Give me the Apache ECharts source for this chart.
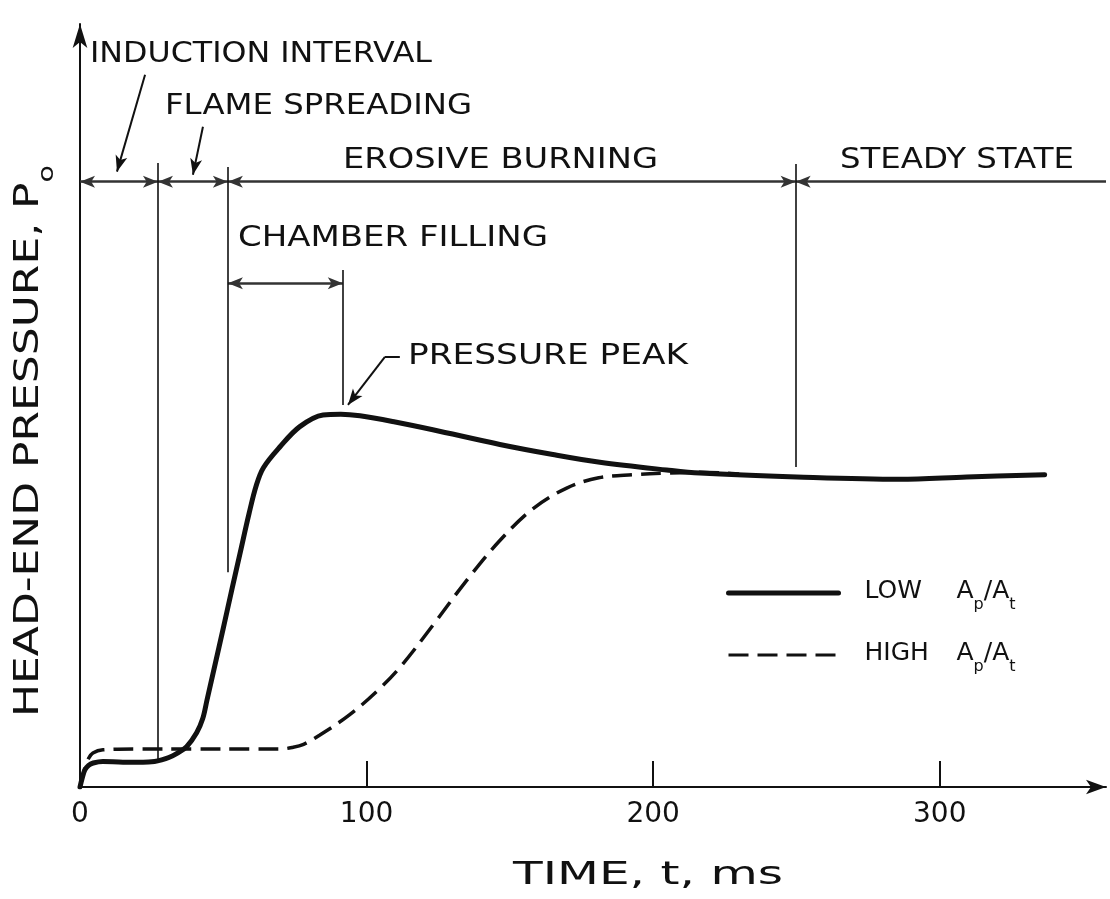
<!DOCTYPE html>
<html>
<head>
<meta charset="utf-8">
<script src="https://cdn.jsdelivr.net/npm/echarts@6/dist/echarts.min.js"></script>
<style>
html,body{margin:0;padding:0;background:#fff;}
#chart{width:1110px;height:899px;}
</style>
</head>
<body>
<div id="chart"></div>
<script>
// ---- data (time in ms, head-end pressure in arbitrary units) ----
const timeLow = [0, 0.8, 1.7, 3.0, 4.6, 8, 15, 22, 26, 28.5, 31, 33.7, 37.2, 40.7, 42.8, 44.3, 47, 50, 53, 56, 59, 61.5, 64, 69.8, 76.7, 84.8, 91, 97.7, 110, 123.1, 146.5, 165, 181.4, 204.7, 216.3, 250.1, 286, 309.4, 336.6];
const pressureLow = [0, 1.2, 2.2, 2.8, 3.1, 3.3, 3.2, 3.2, 3.3, 3.5, 3.8, 4.3, 5.2, 7.0, 8.8, 11.2, 15.6, 20.5, 25.5, 30.4, 35.3, 38.9, 41.2, 43.9, 46.5, 48.0, 48.1, 47.9, 47.1, 46.1, 44.2, 42.9, 41.9, 40.9, 40.5, 40.0, 39.7, 40.0, 40.3];
const timeHigh = [0, 1, 2, 3, 4.5, 8, 20, 40, 60, 69.8, 74, 78, 83.7, 94, 104, 112, 123, 135, 146.5, 158, 170, 181, 192.9, 204.7, 216.3, 230];
const pressureHigh = [0, 1.5, 2.8, 3.7, 4.4, 4.8, 4.9, 4.9, 4.9, 4.9, 5.1, 5.5, 6.7, 9.3, 12.5, 15.6, 20.8, 26.7, 31.8, 35.9, 38.6, 39.9, 40.3, 40.5, 40.6, 40.4];
const seriesNames = ['LOW Ap/At', 'HIGH Ap/At'];
const xTickValues = [100, 200, 300];
const xLabelValues = [0, 100, 200, 300];

// phases (ms) and annotation geometry in data units
const phaseBounds = [0, 27.2, 51.6, 249.7];
const phaseLevel = 78.1;
const phaseDividerTops = [80.5, 80.0, 80.4];
const phaseDividerBottoms = [3.5, 27.7, 41.3];
const chamberFill = [51.6, 91.7];
const chamberLevel = 65.0;
const chamberDivider = [66.7, 49.3];
const pointerInduction = [[22.7, 91.9], [12.9, 79.4]];
const pointerFlame = [[42.9, 85.2], [39.4, 79.0]];
const pointerPeak = [[111.6, 55.5], [106.4, 55.5], [93.5, 49.3]];

const X_MAX = 358, Y_MAX = 98.45;
const INK = '#111';
const FONT = '"DejaVu Sans", sans-serif';

const zip = (a, b) => a.map((v, i) => [v, b[i]]);

// text width measuring for horizontal stretching (lettering is wide)
const mctx = document.createElement('canvas').getContext('2d');
function measure(t, size) { mctx.font = size + 'px ' + FONT; return mctx.measureText(t).width; }

function label(text, cx, cy, width, size) {
  const s = width / measure(text, size);
  return {
    type: 'text', x: cx, y: cy, scaleX: s, silent: true,
    style: { text: text, font: size + 'px ' + FONT, fill: INK,
      textAlign: 'center', textVerticalAlign: 'middle', align: 'center', verticalAlign: 'middle' }
  };
}

const annotationTexts = [
  ['INDUCTION INTERVAL', 261, 55, 342],
  ['FLAME SPREADING', 318.5, 107, 307],
  ['EROSIVE BURNING', 500.5, 161, 315],
  ['STEADY STATE', 957, 161, 234],
  ['CHAMBER FILLING', 393, 239, 310],
  ['PRESSURE PEAK', 548, 357, 280]
];

const graphics = annotationTexts.map(a => label(a[0], a[1], a[2], a[3], 28));
graphics.push(label('TIME, t, ms', 648, 876, 270, 32));

// y-axis title with subscript
(function () {
  const main = 'HEAD-END PRESSURE, P', sub = 'o';
  const w = measure(main, 34) + measure(sub, 22);
  graphics.push({
    type: 'text', x: 31, y: 441, rotation: Math.PI / 2, scaleX: 552 / w, silent: true,
    style: {
      text: '{m|' + main + '}{s|' + sub + '}', fill: INK,
      textAlign: 'center', textVerticalAlign: 'middle', align: 'center', verticalAlign: 'middle',
      rich: {
        m: { fontSize: 34, fontFamily: FONT, lineHeight: 38, verticalAlign: 'top', fill: INK },
        s: { fontSize: 22, fontFamily: FONT, lineHeight: 22, padding: [24, 0, 0, 0], verticalAlign: 'top', fill: INK }
      }
    }
  });
})();

// phase bar segments with outward arrowheads
const phaseSegs = [];
for (let i = 0; i < phaseBounds.length - 1; i++) {
  phaseSegs.push([{ coord: [phaseBounds[i], phaseLevel], symbol: 'arrow' }, { coord: [phaseBounds[i + 1], phaseLevel], symbol: 'arrow' }]);
}
phaseSegs.push([{ coord: [phaseBounds[phaseBounds.length - 1], phaseLevel], symbol: 'arrow' }, { coord: [X_MAX, phaseLevel], symbol: 'none' }]);
phaseSegs.push([{ coord: [chamberFill[0], chamberLevel], symbol: 'arrow' }, { coord: [chamberFill[1], chamberLevel], symbol: 'arrow' }]);

const dividers = [];
for (let i = 1; i < phaseBounds.length; i++) {
  dividers.push([{ coord: [phaseBounds[i], phaseDividerTops[i - 1]] }, { coord: [phaseBounds[i], phaseDividerBottoms[i - 1]] }]);
}
dividers.push([{ coord: [chamberFill[1], chamberDivider[0]] }, { coord: [chamberFill[1], chamberDivider[1]] }]);

const pointersBowed = [
  [{ coord: pointerInduction[0], symbol: 'none' }, { coord: pointerInduction[1], symbol: 'arrow' }],
  [{ coord: pointerFlame[0], symbol: 'none' }, { coord: pointerFlame[1], symbol: 'arrow' }]
];
const pointersPeak = [
  [{ coord: pointerPeak[0], symbol: 'none' }, { coord: pointerPeak[1], symbol: 'none' }],
  [{ coord: pointerPeak[1], symbol: 'none' }, { coord: pointerPeak[2], symbol: 'arrow' }]
];

const mlBase = { silent: true, animation: false, label: { show: false }, emphasis: { disabled: true } };

const legendRich = {
  g: { width: 21, fontSize: 24, fontFamily: FONT },
  w: { width: 92, fontSize: 25, fontFamily: FONT, lineHeight: 28, verticalAlign: 'top', color: INK },
  a: { fontSize: 25, fontFamily: FONT, lineHeight: 28, verticalAlign: 'top', color: INK },
  s: { fontSize: 16, fontFamily: FONT, lineHeight: 16, padding: [18, 0, 0, 0], verticalAlign: 'top', color: INK }
};

const chart = echarts.init(document.getElementById('chart'), null, { renderer: 'canvas' });
chart.setOption({
  backgroundColor: '#fff',
  animation: false,
  grid: { left: 80, right: 4, top: 24, bottom: 112, containLabel: false },
  xAxis: {
    type: 'value', min: 0, max: X_MAX, interval: 100,
    axisLine: { show: true, onZero: false, symbol: ['none', 'arrow'], symbolSize: [11, 20], lineStyle: { color: INK, width: 2 } },
    axisTick: { show: true, inside: true, length: 26, customValues: xTickValues, lineStyle: { color: INK, width: 2 } },
    axisLabel: { customValues: xLabelValues, margin: 14, fontSize: 28, fontFamily: FONT, color: INK },
    splitLine: { show: false }
  },
  yAxis: {
    type: 'value', min: 0, max: Y_MAX,
    axisLine: { show: true, onZero: false, symbol: ['none', 'arrow'], symbolSize: [11, 24], lineStyle: { color: INK, width: 2 } },
    axisTick: { show: false }, axisLabel: { show: false }, splitLine: { show: false }
  },
  legend: {
    data: [
      { name: seriesNames[0], lineStyle: { width: 5 } },
      { name: seriesNames[1], lineStyle: { width: 3 } }
    ],
    orient: 'vertical', left: 721, top: 574,
    itemWidth: 110, itemHeight: 14, itemGap: 28,
    selectedMode: false,
    itemStyle: { opacity: 0 },
    textStyle: { rich: legendRich, color: INK },
    formatter: function (name) {
      const word = name.split(' ')[0];
      return '{g| }{w|' + word + '}{a|A}{s|p}{a|/A}{s|t}';
    }
  },
  series: [
    {
      name: seriesNames[0], type: 'line', data: zip(timeLow, pressureLow), showSymbol: false, symbol: 'none',
      smooth: 0.35, z: 5,
      lineStyle: { color: INK, width: 5, cap: 'round', join: 'round' }, itemStyle: { color: INK }
    },
    {
      name: seriesNames[1], type: 'line', data: zip(timeHigh, pressureHigh), showSymbol: false, symbol: 'none',
      smooth: 0.35, z: 4,
      lineStyle: { color: INK, width: 3.5, type: [20, 9] }, itemStyle: { color: INK }
    },
    {
      name: 'phases', type: 'line', data: [], z: 3,
      markLine: Object.assign({}, mlBase, {
        symbolSize: [9, 15], lineStyle: { color: '#333', width: 2.5, type: 'solid' }, data: phaseSegs
      })
    },
    {
      name: 'dividers', type: 'line', data: [], z: 3,
      markLine: Object.assign({}, mlBase, {
        symbol: ['none', 'none'], lineStyle: { color: INK, width: 1.6, type: 'solid' }, data: dividers
      })
    },
    {
      name: 'pointersBowed', type: 'line', data: [], z: 3,
      markLine: Object.assign({}, mlBase, {
        symbolSize: [9, 16], lineStyle: { color: INK, width: 2, type: 'solid', curveness: -0.15 }, data: pointersBowed
      })
    },
    {
      name: 'pointersPeak', type: 'line', data: [], z: 3,
      markLine: Object.assign({}, mlBase, {
        symbolSize: [9, 16], lineStyle: { color: INK, width: 2, type: 'solid', curveness: 0.08 }, data: pointersPeak
      })
    }
  ],
  graphic: graphics
});
</script>
</body>
</html>
